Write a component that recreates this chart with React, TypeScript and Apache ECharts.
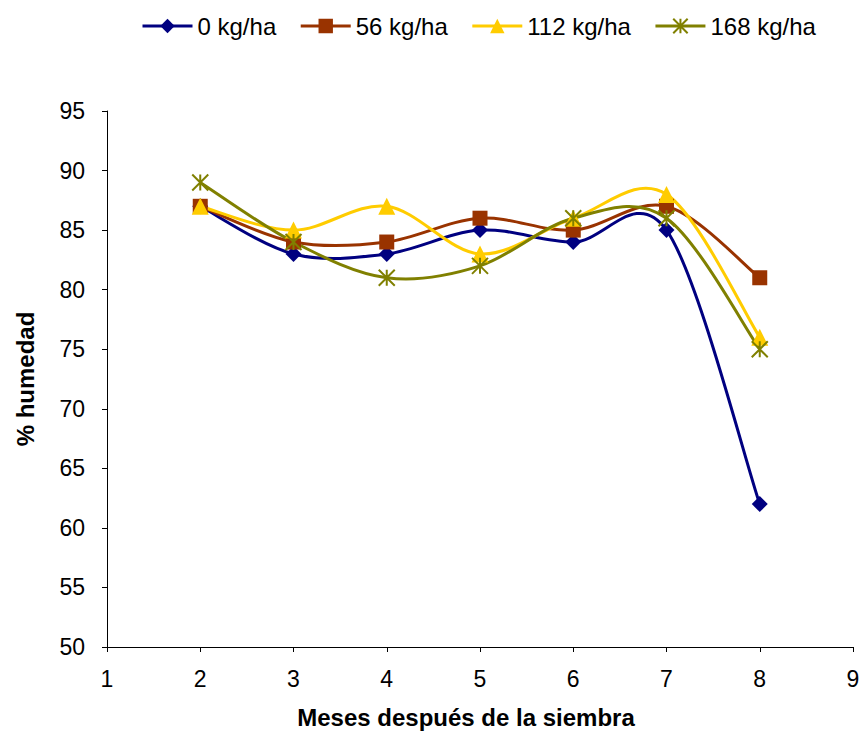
import React, { useEffect, useRef } from "react";
import * as echarts from "echarts";

// Months after sowing and soil moisture (%) for each nitrogen rate
const months = [2, 3, 4, 5, 6, 7, 8];
const seriesNames = ["0 kg/ha", "56 kg/ha", "112 kg/ha", "168 kg/ha"];
const rate0 = [87, 83, 83, 85, 84, 85, 62];
const rate56 = [87, 84, 84, 86, 85, 87, 81];
const rate112 = [87, 85, 87, 83, 86, 88, 76];
const rate168 = [89, 84, 81, 82, 86, 86, 75];
const xTicks = [1, 2, 3, 4, 5, 6, 7, 8, 9];
const yTicks = [50, 55, 60, 65, 70, 75, 80, 85, 90, 95];

const colors = ["#000080", "#993300", "#FFCC00", "#808000"];
const symbols = [
  "diamond",
  "rect",
  "triangle",
  "path://M8,0L8,16M0,0L16,16M0,16L16,0",
];
const symbolSizes = [16, 15, 17, 16];

const FONT = "'Liberation Sans', Arial, Helvetica, sans-serif";

// Catmull-Rom style smoothing (control points at 1/6 of the neighbour chord)
function smoothSegments(pts: number[][]) {
  const segs: any[] = [];
  for (let i = 0; i < pts.length - 1; i++) {
    const p0 = pts[i - 1] || pts[i];
    const p1 = pts[i];
    const p2 = pts[i + 1];
    const p3 = pts[i + 2] || pts[i + 1];
    const cp1 = [p1[0] + (p2[0] - p0[0]) / 6, p1[1] + (p2[1] - p0[1]) / 6];
    const cp2 = [p2[0] - (p3[0] - p1[0]) / 6, p2[1] - (p3[1] - p1[1]) / 6];
    segs.push({ x1: p1[0], y1: p1[1], cpx1: cp1[0], cpy1: cp1[1], cpx2: cp2[0], cpy2: cp2[1], x2: p2[0], y2: p2[1] });
  }
  return segs;
}

export default function App() {
  const ref = useRef<HTMLDivElement>(null);

  useEffect(() => {
    if (!ref.current) return;
    const chart = echarts.init(ref.current, null, { renderer: "svg" });
    const allValues = [rate0, rate56, rate112, rate168];

    // Markers at the measured values (these also supply the legend icons)
    const markers = allValues.map((vals, i) => {
      const isStar = i === 3;
      return {
        name: seriesNames[i],
        type: "line",
        data: months.map((m, j) => [m, vals[j]]),
        symbol: symbols[i],
        symbolSize: symbolSizes[i],
        showSymbol: true,
        color: colors[i],
        lineStyle: { color: colors[i], width: 0, opacity: 0 },
        itemStyle: isStar
          ? { color: "none", borderColor: colors[i], borderWidth: 2 }
          : { color: colors[i], borderColor: colors[i], borderWidth: 0 },
        emphasis: { disabled: true },
        z: 10 + i,
      };
    });

    // Smoothed curves, drawn through the axes' own coordinate conversion
    const curves = allValues.map((vals, i) => ({
      name: seriesNames[i],
      type: "custom",
      data: [[months[0], vals[0]]],
      silent: true,
      color: colors[i],
      itemStyle: { color: colors[i] },
      z: 2 + i,
      renderItem: (_params: any, api: any) => {
        const pts = months.map((m, j) => api.coord([m, vals[j]]));
        return {
          type: "group",
          children: smoothSegments(pts).map((shape) => ({
            type: "bezierCurve",
            shape,
            style: { stroke: colors[i], lineWidth: 3, fill: "none" },
          })),
        };
      },
    }));

    chart.setOption({
      animation: false,
      backgroundColor: "#ffffff",
      textStyle: { fontFamily: FONT },
      legend: {
        top: 9,
        left: 136,
        itemWidth: 50,
        itemHeight: 18,
        itemGap: 23,
        data: seriesNames.map((name, i) => ({
          name,
          lineStyle: { color: colors[i], width: 3, opacity: 1 },
        })),
        textStyle: { fontFamily: FONT, fontSize: 24, color: "#000" },
      },
      grid: { left: 107, right: 13, top: 111, bottom: 89, containLabel: false },
      xAxis: {
        type: "value",
        min: xTicks[0],
        max: xTicks[xTicks.length - 1],
        interval: 1,
        name: "Meses después de la siembra",
        nameLocation: "middle",
        nameGap: 58,
        nameTextStyle: {
          fontFamily: FONT,
          fontSize: 24,
          fontWeight: "bold",
          color: "#000",
          padding: [0, 28, 0, 0],
        },
        axisLine: { show: true, onZero: false, lineStyle: { color: "#000", width: 1 } },
        axisTick: { show: true, length: 5, lineStyle: { color: "#000" } },
        axisLabel: { fontFamily: FONT, fontSize: 23, color: "#000", margin: 20 },
        splitLine: { show: false },
      },
      yAxis: {
        type: "value",
        min: yTicks[0],
        max: yTicks[yTicks.length - 1],
        interval: 5,
        name: "% humedad",
        nameLocation: "middle",
        nameGap: 70,
        nameTextStyle: {
          fontFamily: FONT,
          fontSize: 24,
          fontWeight: "bold",
          color: "#000",
        },
        axisLine: { show: true, lineStyle: { color: "#000", width: 1 } },
        axisTick: { show: true, length: 5, lineStyle: { color: "#000" } },
        axisLabel: { fontFamily: FONT, fontSize: 23, color: "#000", margin: 22 },
        splitLine: { show: false },
      },
      series: [...markers, ...curves],
    });

    return () => chart.dispose();
  }, []);

  return (
    <div
      ref={ref}
      style={{ position: "fixed", left: 0, top: 0, width: 866, height: 736 }}
    />
  );
}
